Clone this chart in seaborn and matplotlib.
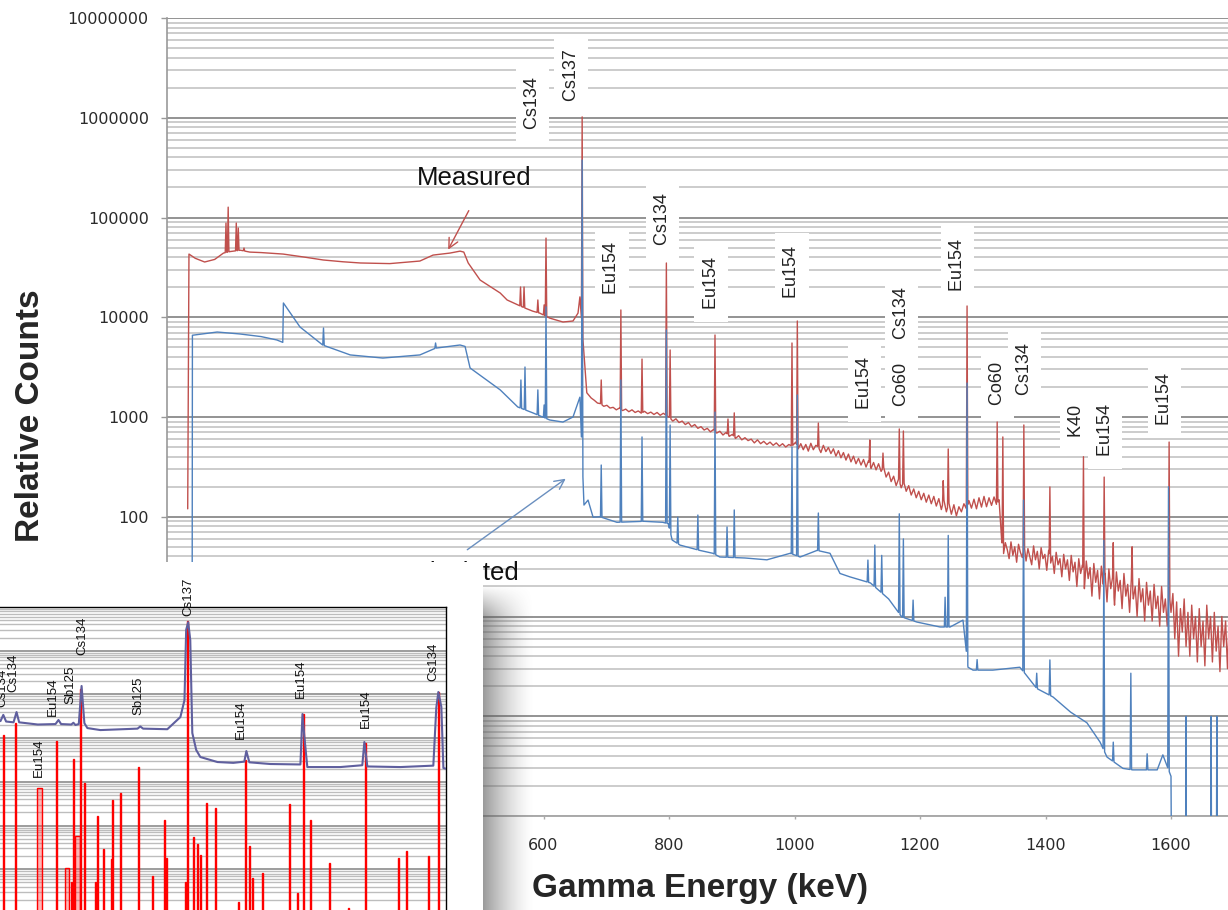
import numpy as np
import pandas as pd
import matplotlib
matplotlib.use("Agg")
import matplotlib.pyplot as plt
from matplotlib.patches import Rectangle
from matplotlib.ticker import FixedLocator, NullLocator, FuncFormatter
import seaborn as sns

sns.set_style("white")
plt.rcParams["font.family"] = ["DejaVu Sans"]

# ---------------------------------------------------------------- main spectra
# Measured spectrum: smooth low-energy continuum (keV, relative counts)
meas_low_energy = [33, 35, 45, 60, 76, 90, 100, 117, 132, 150, 185, 220, 249, 280,
                   308, 355, 403, 424, 451, 467, 473, 480, 499, 531, 542, 559, 570,
                   583, 594, 610, 631, 647, 655, 658, 666, 669]
meas_low_counts = [120, 43000, 39000, 35800, 38000, 44000, 45500, 47000, 45000, 44500,
                   43000, 40000, 37500, 36000, 35000, 34500, 36600, 42000, 44000, 46000,
                   45000, 35000, 23600, 17500, 14900, 13300, 12400, 11500, 11000, 9800,
                   8960, 9170, 11000, 16000, 3160, 1750]

# Measured spectrum: noisy tail, three stretches with a fixed channel step
meas_tail_a_start, meas_tail_a_step = 676, 5
meas_tail_a = [1550, 1470, 1380, 1360, 1280, 1310, 1230, 1250, 1180, 1230,
               1160, 1200, 1130, 1180, 1110, 1150, 1090, 1140, 1080, 1120,
               1060, 1110, 1040, 1090, 1030, 990, 910, 960, 880, 910,
               840, 880, 800, 840, 770, 800, 740, 770, 710, 750,
               690, 720, 660, 700, 640, 670, 610, 650, 590, 620,
               580, 600, 550, 590, 540, 570, 530, 560, 520, 550,
               510, 540, 500, 530, 510]
meas_tail_b_start, meas_tail_b_step = 1002, 4
meas_tail_b = [560, 480, 540, 470, 530, 455, 545, 470, 520, 500,
               440, 520, 450, 495, 430, 480, 405, 460, 390, 440,
               370, 425, 355, 405, 340, 385, 330, 375, 315, 365,
               305, 350, 295, 340, 285, 315, 250, 280, 225, 255,
               205, 240, 195, 225, 180, 205, 165, 190, 155, 180,
               148, 172, 140, 165, 135, 160, 128, 152, 118, 148,
               112, 138, 106, 132, 102, 126, 112, 135, 120, 145,
               122, 150, 120, 155, 125, 160, 126, 155, 130, 158,
               132, 148]
meas_tail_c_start, meas_tail_c_step = 1330, 3
meas_tail_c = [60, 42, 55, 47, 38, 56, 41, 50, 35, 53,
               44, 39, 52, 36, 48, 40, 33, 51, 37, 45,
               30, 49, 38, 42, 29, 46, 34, 40, 27, 44,
               33, 38, 25, 42, 30, 37, 23, 41, 28, 35,
               20, 38, 27, 33, 19, 36, 24, 31, 16, 34,
               22, 29, 15, 32, 21, 27, 14, 30, 19, 25,
               13, 28, 18, 23, 12, 27, 16, 21, 11, 25,
               15, 20, 10, 24, 14, 19, 9, 22, 13, 18,
               9, 21, 12, 16, 8, 20, 11, 15, 8, 18,
               11, 17, 6, 14, 4, 12, 7, 15, 5, 11,
               4, 13, 6, 10, 3.5, 12, 5, 9, 3.2, 13,
               6, 10, 3.5, 11, 4.5, 8, 2.8, 10, 5, 9,
               3, 11, 4, 7]

meas_peak_energy = [94, 97.5, 110.4, 113.6, 122.7, 563.4, 569, 591, 601, 604,
                    661.6, 692, 723.3, 757, 795.8, 801.8, 873.3, 894, 904, 996,
                    1004.5, 1038, 1120, 1141, 1167, 1173.5, 1237, 1245, 1275, 1323,
                    1332, 1365.5, 1407, 1460.5, 1493.5, 1508, 1538, 1597]
meas_peak_counts = [88000, 127000, 88000, 78500, 49400, 20100, 20100, 14900, 13300, 62200,
                    1020000, 2350, 11830, 3810, 35000, 4700, 6640, 955, 1100, 5520,
                    9170, 870, 589, 435, 759, 724, 230, 478, 12970, 891,
                    631, 832, 199, 400, 250, 55, 50, 561]

# Calculated spectrum: continuum and lines
calc_cont_energy = [39.5, 40.5, 80, 116, 150, 175, 184.5, 185.5, 212, 248, 292, 344, 403,
                    428, 467, 475, 483, 531, 559, 583, 610, 631, 647, 658, 664.5, 671,
                    679, 690, 717, 760, 790, 799, 805, 817.5, 849, 870, 881, 921, 956,
                    993, 1009, 1036, 1056.6, 1072.5, 1088, 1121, 1150, 1163, 1171, 1195,
                    1232, 1248, 1268.5, 1276.5, 1284.5, 1316, 1359, 1367, 1386, 1412,
                    1440, 1466, 1487, 1498, 1523.5, 1539, 1578, 1587, 1600, 1602, 1700]
calc_cont_counts = [0.001, 6600, 7110, 6800, 6400, 5920, 5600, 13900, 7980, 5270, 4190,
                    3900, 4190, 4900, 5270, 5100, 3100, 1870, 1260, 1100, 933, 890, 1000,
                    1580, 131, 147, 99, 100, 88, 90, 88, 85, 58.5, 52, 46, 43, 39.5, 38.6,
                    37, 43, 39.5, 46, 43, 27, 25, 21.7, 15, 11.6, 9.9, 8.8, 7.85, 7.85,
                    9.2, 3.1, 2.9, 2.9, 3.1, 2.7, 1.9, 1.56, 1.1, 0.86, 0.55, 0.39, 0.3,
                    0.29, 0.29, 0.41, 0.25, 0.001, 0.001]
calc_peak_energy = [249.4, 428, 564, 570.5, 591, 601, 604, 661.6, 692, 723.3, 757, 795.8,
                    801.8, 814, 846, 873.3, 892.5, 904, 996, 1004.5, 1038, 1117, 1128,
                    1139, 1167, 1173.5, 1189, 1240, 1245, 1275, 1291, 1365, 1386, 1407,
                    1493, 1508, 1536, 1562, 1596, 1624, 1664, 1673]
calc_peak_counts = [7800, 5520, 2350, 3170, 1870, 1320, 12700, 377000, 330, 2350, 631,
                    7450, 830, 99, 104, 1120, 79, 117, 500, 1660, 109, 36.8, 52, 41, 107,
                    60, 14.6, 15.6, 65, 2190, 3.7, 147, 2.7, 3.67, 58, 0.55, 2.7, 0.42,
                    200, 1.0, 1.0, 1.0]

# Nuclide labels on the main chart
label_text = ["Cs134", "Cs137", "Eu154", "Cs134", "Eu154", "Eu154", "Eu154", "Cs134",
              "Co60", "Eu154", "Co60", "Cs134", "K40", "Eu154", "Eu154"]
label_energy = [583, 644, 709, 790, 867, 996, 1112, 1171, 1171, 1260, 1323, 1367, 1450,
                1495, 1590]
label_counts = [1.41e6, 2.68e6, 31200, 96600, 22000, 28400, 2190, 11000, 2140, 33400,
                2190, 3030, 912, 741, 1514]

# tick positions; only the labelled ones are written out
y_ticks = [0.1, 1, 10, 100, 1000, 10000, 100000, 1000000, 10000000]
y_tick_labels = ["", "", "", "100", "1000", "10000", "100000", "1000000", "10000000"]
x_ticks = [0, 200, 400, 600, 800, 1000, 1200, 1400, 1600]
x_tick_labels = ["", "", "", "600", "800", "1000", "1200", "1400", "1600"]

# ---------------------------------------------------------------- inset data
inset_line_energy = [555, 561, 562.5, 564, 568, 569.6, 571, 581, 590.5, 592.1, 593.5,
                     599, 600.1, 601.2, 603, 604.5, 606, 607.6, 614.6, 634.5, 636, 637.5,
                     650.5, 657.5, 659.7, 660.6, 661.7, 662.8, 663.9, 666, 668.2, 677.4,
                     685.9, 691.8, 692.9, 694.5, 705.7, 721.9, 723, 724, 725.6, 743.3,
                     755.1, 756.2, 757.8, 775.5, 793.2, 794.8, 795.9, 797.5, 798.6, 800]
inset_line_counts = [2500, 2460, 3400, 2400, 2300, 3950, 2300, 2050, 2100, 2600, 2100,
                     2050, 2250, 2000, 2100, 15600, 2200, 1700, 1530, 1650, 1850, 1650,
                     1600, 3040, 7400, 300000, 450000, 176000, 1310, 535, 370, 284,
                     272, 290, 507, 280, 256, 250, 3560, 1100, 218, 218,
                     240, 815, 225, 218, 235, 5000, 11350, 5200, 207, 200]

inset_bar_energy = [562.6, 569.0, 581.9, 591.0, 596.9, 599.1, 600.1, 602.3, 603.9, 606.0,
                    611.9, 613.0, 616.2, 620.5, 621.1, 625.3, 635.0, 642.5, 648.9, 650.0,
                    660.2, 661.3, 664.5, 666.6, 668.2, 671.5, 676.3, 688.6, 692.4, 694.5,
                    696.1, 701.5, 716.0, 720.2, 723.5, 727.2, 737.4, 747.6, 756.7, 774.4,
                    778.7, 790.5, 795.9]
inset_bar_counts = [1180, 2220, 72, 860, 1.06, 0.51, 333, 5.75, 13300, 94,
                    0.51, 16.5, 2.9, 1.7, 38, 55, 218, 0.70, 13.4, 1.8,
                    0.51, 480000, 5.5, 3.8, 2.1, 32.7, 25, 0.18, 315, 3.4,
                    0.63, 0.82, 31, 0.29, 3560, 13.4, 1.4, 0.13, 773, 1.8,
                    2.6, 2.0, 11350]
inset_wide_bars = [581.9, 596.9, 602.3]

inset_label_text = ["Cs134", "Cs134", "Eu154", "Sb125", "Cs134", "Sb125", "Cs137",
                    "Eu154", "Eu154", "Eu154", "Eu154", "Cs134"]
inset_label_energy = [562, 568.1, 588.9, 598.5, 605, 635, 661.8, 581.4, 689.7, 721.9,
                      757.2, 793.2]
inset_label_counts = [14000, 30900, 8700, 16400, 217000, 9200, 1.69e6, 351, 2600, 22500,
                      4630, 55100]

RED = "#C0504D"
BLUE = "#4F81BD"


def spectrum(cont_e, cont_c, peak_e, peak_c, hw):
    """Continuum polyline with narrow triangular lines placed on top of it."""
    cont_e = np.asarray(cont_e, float)
    cont_c = np.asarray(cont_c, float)
    keep = np.ones(len(cont_e), bool)
    for p in peak_e:
        keep &= np.abs(cont_e - p) > hw
    log_c = np.log10(cont_c)
    xs, ys = list(cont_e[keep]), list(cont_c[keep])
    for p, h in zip(peak_e, peak_c):
        for dx in (-hw, hw):
            xs.append(p + dx)
            ys.append(10 ** np.interp(p + dx, cont_e, log_c))
        xs.append(p)
        ys.append(h)
    order = np.argsort(xs, kind="stable")
    return pd.DataFrame({"energy": np.asarray(xs)[order], "counts": np.asarray(ys)[order]})


def tail(start, step, values):
    return [start + step * i for i in range(len(values))]


meas_e = (meas_low_energy + tail(meas_tail_a_start, meas_tail_a_step, meas_tail_a)
          + tail(meas_tail_b_start, meas_tail_b_step, meas_tail_b)
          + tail(meas_tail_c_start, meas_tail_c_step, meas_tail_c))
meas_c = meas_low_counts + meas_tail_a + meas_tail_b + meas_tail_c
measured = spectrum(meas_e, meas_c, meas_peak_energy, meas_peak_counts, 1.2)
calculated = spectrum(calc_cont_energy, calc_cont_counts, calc_peak_energy,
                      calc_peak_counts, 1.2)

# ---------------------------------------------------------------- figure
W, H = 1228, 910
fig = plt.figure(figsize=(W / 100, H / 100), dpi=100)
fig.patch.set_facecolor("white")

ax = fig.add_axes([167 / W, 94 / H, 1129.5 / W, 798 / H])
ax.set_yscale("log")
ax.set_xlim(0, 1800)
ax.set_ylim(0.1, 1e7)

# horizontal grid: decades darker, in-between lines lighter
for dec in y_ticks:
    ax.axhline(dec, color="#8a8a8a", lw=1.3, zorder=0.5)
    if dec < 1e7:
        for m in range(2, 10):
            ax.axhline(dec * m, color="#c4c4c4", lw=1.2, zorder=0.4)

sns.lineplot(data=measured, x="energy", y="counts", ax=ax, color=RED, lw=1.0,
             estimator=None, sort=False, zorder=2)
sns.lineplot(data=calculated, x="energy", y="counts", ax=ax, color=BLUE, lw=1.0,
             estimator=None, sort=False, zorder=3)

for t, e, c in zip(label_text, label_energy, label_counts):
    ax.text(e, c, " " + t + " ", rotation=90, ha="center", va="center", fontsize=13,
            family="Liberation Sans", color="#222222", zorder=6,
            bbox=dict(boxstyle="square,pad=0.45", fc="white", ec="none"))

ax.text(489, 249000, "Measured", ha="center", va="center", fontsize=18.5,
        family="Liberation Sans", color="#111111", zorder=6)
ax.annotate("", xy=(446, 45000), xytext=(483, 124000),
            arrowprops=dict(arrowstyle="->,head_length=0.7,head_width=0.35",
                            color=RED, lw=1.0), zorder=6)
calc_txt = ax.text(562, 27.3, "Calculated", ha="right", va="center", fontsize=18.5,
                   family="Liberation Sans", color="#111111", zorder=6)
# the inset panel sits over the start of this caption
calc_txt.set_clip_path(Rectangle((483 / W, 0), 1, 1, transform=fig.transFigure))
ax.annotate("", xy=(639, 250), xytext=(475, 45),
            arrowprops=dict(arrowstyle="->,head_length=0.7,head_width=0.35",
                            color="#6a8fbf", lw=1.0), zorder=6)

ax.yaxis.set_major_locator(FixedLocator(y_ticks))
ax.yaxis.set_minor_locator(NullLocator())
ax.set_yticklabels(y_tick_labels)
ax.xaxis.set_major_locator(FixedLocator(x_ticks))
ax.xaxis.set_minor_locator(NullLocator())
ax.set_xticklabels(x_tick_labels)
ax.tick_params(axis="y", which="major", direction="out", length=4.3, width=1,
               color="#999999", pad=8.8, labelsize=11.5, labelcolor="#2a2a2a", left=True)
ax.tick_params(axis="x", which="major", direction="out", length=2.5, width=1,
               color="#aaaaaa", pad=13.5, labelsize=11.5, labelcolor="#2a2a2a", bottom=True)
ax.set_xlabel("")
ax.set_ylabel("")
for s in ("top", "right"):
    ax.spines[s].set_visible(False)
ax.spines["left"].set_color("#999999")
ax.spines["bottom"].set_color("#aaaaaa")
ax.spines["left"].set_linewidth(1.2)
ax.spines["bottom"].set_linewidth(1.4)

fig.text(31 / W, 1 - 416 / H, "Relative Counts", rotation=90, ha="center", va="center",
         fontsize=24, fontweight="bold", family="Liberation Sans")
fig.text(700 / W, 1 - 888 / H, "Gamma Energy (keV)", ha="center", va="center",
         fontsize=24, fontweight="bold", family="Liberation Sans")

# ---------------------------------------------------------------- inset panel
shadow = fig.add_axes([483 / W, 0, 52 / W, (H - 585) / H], zorder=10)
gx = np.linspace(0, 1, 52)
gy = np.linspace(0, 1, H - 585)
alpha = 0.6 * (1 - gx[None, :]) ** 1.5 * np.clip(gy[:, None] / 0.1, 0, 1)
rgba = np.zeros((H - 585, 52, 4))
rgba[..., :3] = 0.35
rgba[..., 3] = alpha
shadow.imshow(rgba, aspect="auto", interpolation="bilinear")
shadow.axis("off")

panel = fig.add_axes([0, 0, 483 / W, (H - 562) / H], zorder=11)
panel.set_facecolor("white")
panel.set_xticks([])
panel.set_yticks([])
for s in panel.spines.values():
    s.set_visible(False)

ins = fig.add_axes([-20 / W, -3 / H, 466 / W, 306 / H], zorder=12)
ins.set_facecolor("white")
ins.set_yscale("log")
ins.set_xlim(550, 800)
ins.set_ylim(0.1, 1e6)
for k in range(-1, 6):
    dec = 10.0 ** k
    ins.axhline(dec, color="#8c8c8c", lw=1.2, zorder=0.5)
    for m in range(2, 10):
        ins.axhline(dec * m, color="#bdbdbd", lw=1.0, zorder=0.4)

widths = [2.2 if e in inset_wide_bars else 0.7 for e in inset_bar_energy]
ins.bar(inset_bar_energy, inset_bar_counts, width=widths, bottom=1e-3, align="center",
        color=(1, 0.2, 0.2, 0.35), edgecolor="#ff0000", lw=1.0, zorder=2)
inset_df = pd.DataFrame({"energy": inset_line_energy, "counts": inset_line_counts})
sns.lineplot(data=inset_df, x="energy", y="counts", ax=ins, color="#5f5f9e", lw=1.5,
             estimator=None, sort=False, zorder=3)
for t, e, c in zip(inset_label_text, inset_label_energy, inset_label_counts):
    ins.text(e, c, t, rotation=90, ha="center", va="center", fontsize=9.5,
             family="Liberation Sans", color="#111111", zorder=5, clip_on=False)
ins.set_xticks([])
ins.set_yticks([])
ins.minorticks_off()
ins.set_xlabel("")
ins.set_ylabel("")
ins.spines["left"].set_visible(False)
ins.spines["bottom"].set_visible(False)
ins.spines["top"].set_color("black")
ins.spines["right"].set_color("black")
ins.spines["top"].set_linewidth(1.0)
ins.spines["right"].set_linewidth(1.0)

fig.savefig("out.png", dpi=100, facecolor="white")
